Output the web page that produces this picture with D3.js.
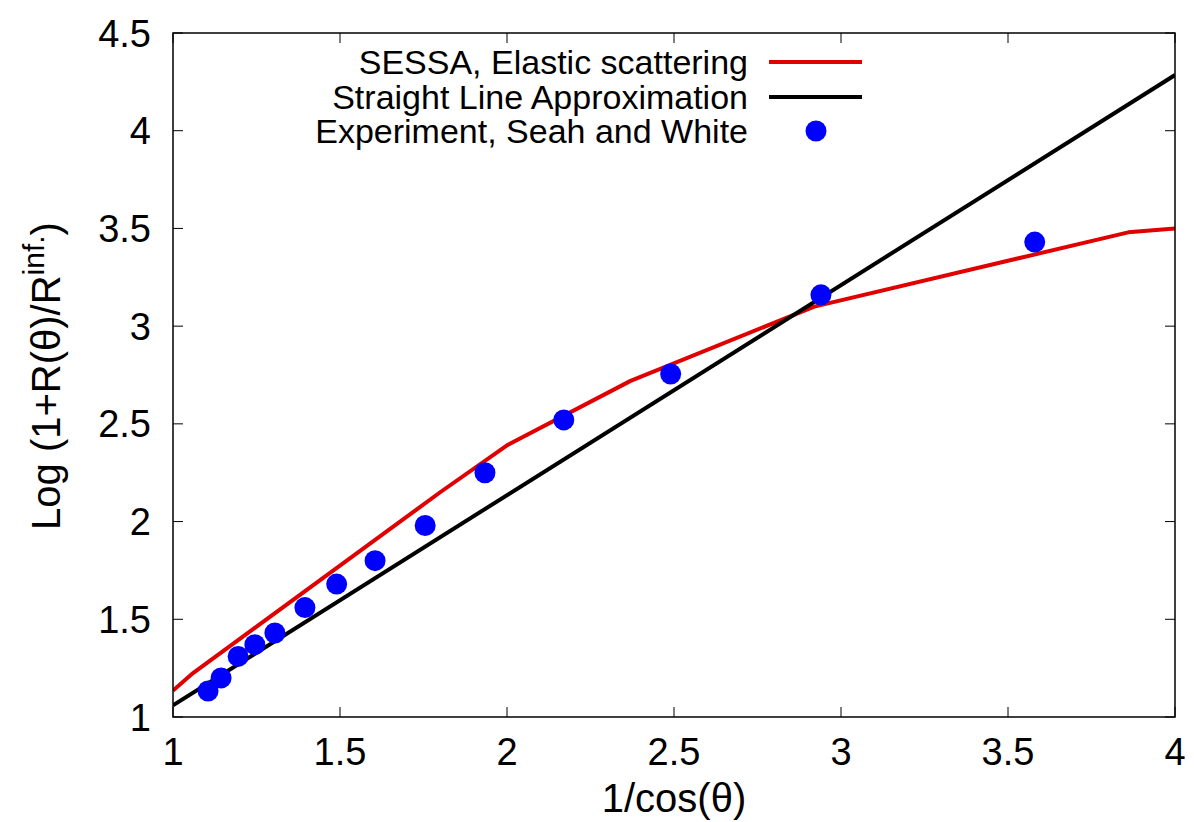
<!DOCTYPE html>
<html><head><meta charset="utf-8">
<script src="https://cdn.jsdelivr.net/npm/d3@7"></script>
<style>body{margin:0;background:#fff}text{font-family:"Liberation Sans",Arial,sans-serif}</style>
</head><body>
<svg id="c" width="1194" height="822"></svg>
<script>
const xTicks = [1, 1.5, 2, 2.5, 3, 3.5, 4];
const yTicks = [1, 1.5, 2, 2.5, 3, 3.5, 4, 4.5];
const sessaX = [1.0, 1.06, 1.8, 2.0, 2.37, 2.92, 3.86, 4.0];
const sessaY = [1.135, 1.225, 2.15, 2.39, 2.72, 3.10, 3.48, 3.50];
const lineX = [1.0, 4.0];
const lineY = [1.06, 4.285];
const expX = [1.105, 1.144, 1.195, 1.245, 1.305, 1.395, 1.49, 1.605, 1.755, 1.934, 2.17, 2.49, 2.94, 3.58];
const expY = [1.133, 1.20, 1.31, 1.37, 1.43, 1.56, 1.68, 1.80, 1.98, 2.25, 2.52, 2.755, 3.16, 3.43];
const legendLabels = ["SESSA, Elastic scattering", "Straight Line Approximation", "Experiment, Seah and White"];

const svg = d3.select("#c");
const L = 173, R = 1175, T = 33, B = 717;
const x = d3.scaleLinear().domain([1, 4]).range([L, R]);
const y = d3.scaleLinear().domain([1, 4.5]).range([B, T]);
const fsTick = 38, fsLeg = 34, fsTitle = 40;

// ticks (inward, mirrored)
const tl = 10;
const g = svg.append("g");
xTicks.forEach(v => {
  g.append("line").attr("x1", x(v)).attr("x2", x(v)).attr("y1", B).attr("y2", B - tl).attr("stroke", "#000").attr("stroke-width", 1);
  g.append("line").attr("x1", x(v)).attr("x2", x(v)).attr("y1", T).attr("y2", T + tl).attr("stroke", "#000").attr("stroke-width", 1);
  g.append("text").attr("x", x(v)).attr("y", B + 48).attr("text-anchor", "middle").attr("font-size", fsTick).text(d3.format("")(v));
});
yTicks.forEach(v => {
  g.append("line").attr("y1", y(v)).attr("y2", y(v)).attr("x1", L).attr("x2", L + tl).attr("stroke", "#000").attr("stroke-width", 1);
  g.append("line").attr("y1", y(v)).attr("y2", y(v)).attr("x1", R).attr("x2", R - tl).attr("stroke", "#000").attr("stroke-width", 1);
  g.append("text").attr("x", 151).attr("y", y(v) + 13.5).attr("text-anchor", "end").attr("font-size", fsTick).text(d3.format("")(v));
});

svg.append("clipPath").attr("id", "clp").append("rect").attr("x", L).attr("y", T).attr("width", R - L).attr("height", B - T);
const plot = svg.append("g").attr("clip-path", "url(#clp)");

const lineGen = d3.line().x(d => x(d[0])).y(d => y(d[1]));
plot.append("path").datum(sessaX.map((v, i) => [v, sessaY[i]])).attr("d", lineGen)
  .attr("fill", "none").attr("stroke", "#e00000").attr("stroke-width", 4).attr("stroke-linejoin", "round");
plot.append("path").datum(lineX.map((v, i) => [v, lineY[i]])).attr("d", lineGen)
  .attr("fill", "none").attr("stroke", "#000").attr("stroke-width", 4);
plot.selectAll("circle.e").data(expX.map((v, i) => [v, expY[i]])).enter().append("circle")
  .attr("cx", d => x(d[0])).attr("cy", d => y(d[1])).attr("r", 10.5).attr("fill", "#0000ff");

// frame
svg.append("rect").attr("x", L).attr("y", T).attr("width", R - L).attr("height", B - T)
  .attr("fill", "none").attr("stroke", "#000").attr("stroke-width", 1.5);

// legend
const ly = [62, 97, 131];
legendLabels.forEach((t, i) => {
  svg.append("text").attr("x", 748).attr("y", ly[i] + 12).attr("text-anchor", "end").attr("font-size", fsLeg).text(t);
});
svg.append("line").attr("x1", 769).attr("x2", 862).attr("y1", ly[0]).attr("y2", ly[0]).attr("stroke", "#e00000").attr("stroke-width", 4);
svg.append("line").attr("x1", 769).attr("x2", 862).attr("y1", ly[1]).attr("y2", ly[1]).attr("stroke", "#000").attr("stroke-width", 4);
svg.append("circle").attr("cx", 816).attr("cy", ly[2]).attr("r", 10.5).attr("fill", "#0000ff");

// axis titles
svg.append("text").attr("x", (L + R) / 2).attr("y", 812).attr("text-anchor", "middle").attr("font-size", fsTitle).text("1/cos(θ)");
const yt = svg.append("text").attr("transform", `translate(60,376) rotate(-90)`).attr("text-anchor", "middle").attr("font-size", fsTitle);
yt.append("tspan").text("Log (1+R(θ)/R");
yt.append("tspan").attr("dy", -16).attr("font-size", 30).text("inf.");
yt.append("tspan").attr("dy", 16).text(")");
</script>
</body></html>
